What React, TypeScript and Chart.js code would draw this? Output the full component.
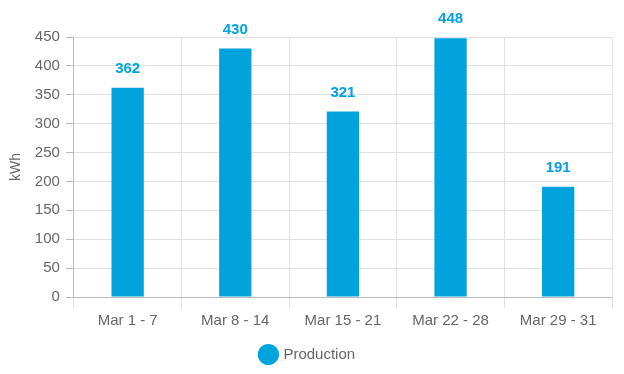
import React, { useEffect, useRef } from "react";
import { Chart, registerables } from "chart.js";

Chart.register(...registerables);

const categories = ["Mar 1 - 7", "Mar 8 - 14", "Mar 15 - 21", "Mar 22 - 28", "Mar 29 - 31"];
const production = [362, 430, 321, 448, 191];
const seriesName = "Production";
const yTitle = "kWh";

const BLUE = "#00A3DB";
const FONT = "'Liberation Sans', Arial, sans-serif";

const valueLabels = {
  id: "valueLabels",
  afterDatasetsDraw(chart: any) {
    const ctx = chart.ctx;
    const meta = chart.getDatasetMeta(0);
    ctx.save();
    ctx.font = `bold 15px ${FONT}`;
    ctx.fillStyle = BLUE;
    ctx.textAlign = "center";
    ctx.textBaseline = "middle";
    meta.data.forEach((el: any, i: number) => {
      ctx.fillText(String(chart.data.datasets[0].data[i]), el.x, el.y - 19);
    });
    ctx.restore();
  },
};

export default function App() {
  const ref = useRef<HTMLCanvasElement>(null);
  useEffect(() => {
    document.body.style.margin = "0";
    const chart = new Chart(ref.current!, {
      type: "bar",
      data: {
        labels: categories,
        datasets: [
          {
            label: seriesName,
            data: production,
            backgroundColor: BLUE,
            borderWidth: 0,
            barPercentage: 0.3,
            categoryPercentage: 1,
          },
        ],
      },
      options: {
        responsive: false,
        animation: false,
        layout: { padding: { top: 37, right: 12, left: 4, bottom: 2 } },
        plugins: {
          tooltip: { enabled: false },
          legend: {
            position: "bottom",
            labels: {
              usePointStyle: true,
              pointStyle: "circle",
              color: "#666",
              font: { family: FONT, size: 15 },
              padding: 13,
            },
          },
        },
        scales: {
          x: {
            grid: { color: "#e2e2e2", tickLength: 11, tickColor: "#e2e2e2" },
            border: { color: "#bbb" },
            ticks: { color: "#666", font: { family: FONT, size: 15 }, padding: 4 },
          },
          y: {
            min: 0,
            max: 450,
            ticks: { stepSize: 50, color: "#666", font: { family: FONT, size: 15 }, padding: 6 },
            grid: { color: "#e2e2e2", tickLength: 8, tickColor: "#bbb" },
            border: { color: "#bbb" },
            title: { display: true, text: yTitle, color: "#666", font: { family: FONT, size: 14 } },
          },
        },
      },
      plugins: [valueLabels],
    });
    return () => chart.destroy();
  }, []);
  return <canvas ref={ref} width={624} height={374} style={{ display: "block" }} />;
}
